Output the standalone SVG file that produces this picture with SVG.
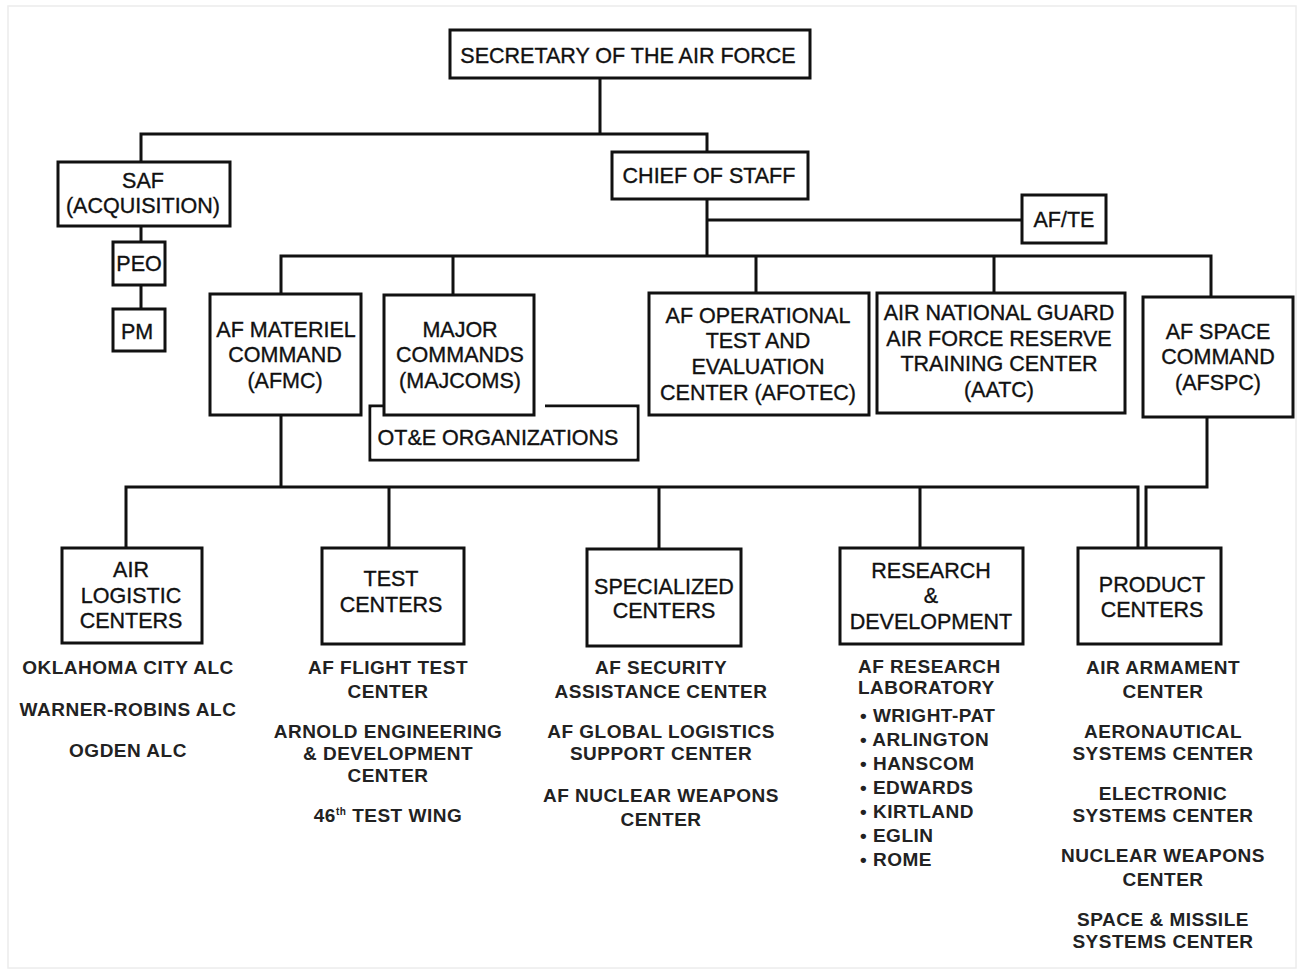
<svg xmlns="http://www.w3.org/2000/svg" width="1309" height="977" viewBox="0 0 1309 977">
<style>
.box{fill:#fff;stroke:#111;stroke-width:3}
.ln{fill:none;stroke:#111;stroke-width:3}
.bt{font-family:"Liberation Sans",Arial,sans-serif;font-size:21.5px;fill:#111;stroke:#111;stroke-width:0.35;text-anchor:middle}
.st{font-family:"Liberation Sans",Arial,sans-serif;font-size:19px;font-weight:bold;letter-spacing:0.5px;fill:#222;text-anchor:middle}
.sl{font-family:"Liberation Sans",Arial,sans-serif;font-size:19px;font-weight:bold;letter-spacing:0.5px;fill:#222;text-anchor:start}
</style>
<rect x="0" y="0" width="1309" height="977" fill="#fff"/>
<rect x="8" y="6" width="1288" height="962" fill="none" stroke="#ececec" stroke-width="1.5"/>

<g id="connectors" class="ln">
  <path d="M600,78 V134 M141,162 V134 H707 V152"/>
  <path d="M141,226 V242 M141,285 V309"/>
  <path d="M707,199 V256 M707,220 H1022"/>
  <path d="M281,294 V256 H1211 V297 M453,256 V295 M756,256 V293 M994,256 V293"/>
  <path d="M281,415 V487 M126,548 V487 H1138 V548 M389,487 V548 M659,487 V549 M920,487 V548"/>
  <path d="M1207,417 V487 H1146 V548"/>
</g>

<g id="secretary"><rect class="box" x="450" y="30" width="360" height="48"/><text class="bt" x="628" y="63">SECRETARY OF THE AIR FORCE</text></g>
<g id="saf-acq"><rect class="box" x="58" y="162" width="172" height="64"/><text class="bt" x="143" y="188">SAF</text><text class="bt" x="143" y="213">(ACQUISITION)</text></g>
<g id="peo"><rect class="box" x="113" y="242" width="52" height="43"/><text class="bt" x="139" y="271">PEO</text></g>
<g id="pm"><rect class="box" x="113" y="309" width="52" height="42"/><text class="bt" x="137" y="339">PM</text></g>
<g id="chief"><rect class="box" x="612" y="152" width="196" height="47"/><text class="bt" x="709" y="183">CHIEF OF STAFF</text></g>
<g id="afte"><rect class="box" x="1022" y="195" width="84" height="48"/><text class="bt" x="1064" y="227">AF/TE</text></g>

<g id="afmc"><rect class="box" x="210" y="294" width="151" height="121"/><text class="bt" x="286" y="337">AF MATERIEL</text><text class="bt" x="285" y="362">COMMAND</text><text class="bt" x="285" y="388">(AFMC)</text></g>
<g id="ote-orgs"><path class="box" d="M384,406 H370 V460 H638 V406 H545" fill="#fff"/><rect x="371.5" y="407.5" width="265" height="51" fill="#fff"/><text class="bt" x="498" y="445">OT&amp;E ORGANIZATIONS</text></g>
<g id="majcoms"><rect class="box" x="384" y="295" width="150" height="120"/><text class="bt" x="460" y="337">MAJOR</text><text class="bt" x="460" y="362">COMMANDS</text><text class="bt" x="460" y="388">(MAJCOMS)</text></g>
<g id="afotec"><rect class="box" x="649" y="293" width="220" height="122"/><text class="bt" x="758" y="323">AF OPERATIONAL</text><text class="bt" x="758" y="348">TEST AND</text><text class="bt" x="758" y="374">EVALUATION</text><text class="bt" x="758" y="400">CENTER (AFOTEC)</text></g>
<g id="aatc"><rect class="box" x="877" y="293" width="248" height="120"/><text class="bt" x="999" y="320">AIR NATIONAL GUARD</text><text class="bt" x="999" y="346">AIR FORCE RESERVE</text><text class="bt" x="999" y="371">TRAINING CENTER</text><text class="bt" x="999" y="397">(AATC)</text></g>
<g id="afspc"><rect class="box" x="1143" y="297" width="150" height="120"/><text class="bt" x="1218" y="339">AF SPACE</text><text class="bt" x="1218" y="364">COMMAND</text><text class="bt" x="1218" y="390">(AFSPC)</text></g>

<g id="alc"><rect class="box" x="62" y="548" width="140" height="95"/><text class="bt" x="131" y="577">AIR</text><text class="bt" x="131" y="603">LOGISTIC</text><text class="bt" x="131" y="628">CENTERS</text></g>
<g id="test-centers"><rect class="box" x="322" y="548" width="142" height="96"/><text class="bt" x="391" y="586">TEST</text><text class="bt" x="391" y="612">CENTERS</text></g>
<g id="specialized"><rect class="box" x="587" y="549" width="154" height="97"/><text class="bt" x="664" y="594">SPECIALIZED</text><text class="bt" x="664" y="618">CENTERS</text></g>
<g id="rnd"><rect class="box" x="840" y="548" width="183" height="96"/><text class="bt" x="931" y="578">RESEARCH</text><text class="bt" x="931" y="603">&amp;</text><text class="bt" x="931" y="629">DEVELOPMENT</text></g>
<g id="product"><rect class="box" x="1078" y="548" width="143" height="96"/><text class="bt" x="1152" y="592">PRODUCT</text><text class="bt" x="1152" y="617">CENTERS</text></g>

<g id="alc-list"><text class="st" x="128" y="674">OKLAHOMA CITY ALC</text><text class="st" x="128" y="716">WARNER-ROBINS ALC</text><text class="st" x="128" y="757">OGDEN ALC</text></g>
<g id="test-list"><text class="st" x="388" y="674">AF FLIGHT TEST</text><text class="st" x="388" y="698">CENTER</text><text class="st" x="388" y="738">ARNOLD ENGINEERING</text><text class="st" x="388" y="760">&amp; DEVELOPMENT</text><text class="st" x="388" y="782">CENTER</text><text class="st" x="388" y="822">46<tspan font-size="10" dy="-7">th</tspan><tspan dy="7"> TEST WING</tspan></text></g>
<g id="spec-list"><text class="st" x="661" y="674">AF SECURITY</text><text class="st" x="661" y="698">ASSISTANCE CENTER</text><text class="st" x="661" y="738">AF GLOBAL LOGISTICS</text><text class="st" x="661" y="760">SUPPORT CENTER</text><text class="st" x="661" y="802">AF NUCLEAR WEAPONS</text><text class="st" x="661" y="826">CENTER</text></g>
<g id="rnd-list"><text class="sl" x="858" y="673">AF RESEARCH</text><text class="sl" x="858" y="694">LABORATORY</text>
<text class="sl" x="860" y="722">• WRIGHT-PAT</text><text class="sl" x="860" y="746">• ARLINGTON</text><text class="sl" x="860" y="770">• HANSCOM</text><text class="sl" x="860" y="794">• EDWARDS</text><text class="sl" x="860" y="818">• KIRTLAND</text><text class="sl" x="860" y="842">• EGLIN</text><text class="sl" x="860" y="866">• ROME</text></g>
<g id="product-list"><text class="st" x="1163" y="674">AIR ARMAMENT</text><text class="st" x="1163" y="698">CENTER</text><text class="st" x="1163" y="738">AERONAUTICAL</text><text class="st" x="1163" y="760">SYSTEMS CENTER</text><text class="st" x="1163" y="800">ELECTRONIC</text><text class="st" x="1163" y="822">SYSTEMS CENTER</text><text class="st" x="1163" y="862">NUCLEAR WEAPONS</text><text class="st" x="1163" y="886">CENTER</text><text class="st" x="1163" y="926">SPACE &amp; MISSILE</text><text class="st" x="1163" y="948">SYSTEMS CENTER</text></g>
</svg>
